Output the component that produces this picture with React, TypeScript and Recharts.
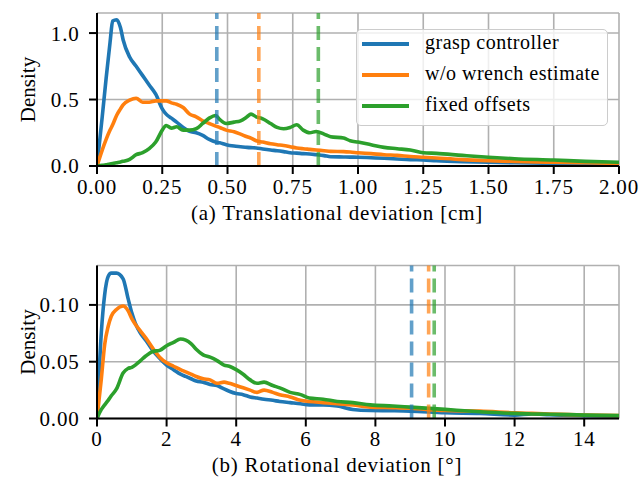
import React from 'react';
import { LineChart, Line, XAxis, YAxis, CartesianGrid, ReferenceLine, Legend } from 'recharts';

const seriesNames = ['grasp controller', 'w/o wrench estimate', 'fixed offsets'];
const seriesKeys = ['grasp', 'noWrench', 'fixed'];
const colors = ['#1f77b4', '#ff7f0e', '#2ca02c'];

// (a) translational deviation, density estimate
const transX = [
  0, 0.02, 0.035, 0.05, 0.06, 0.075, 0.09, 0.1, 0.125, 0.15,
  0.175, 0.2, 0.225, 0.25, 0.265, 0.285, 0.305, 0.33, 0.355, 0.38,
  0.405, 0.43, 0.455, 0.47, 0.495, 0.525, 0.55, 0.575, 0.59, 0.61,
  0.635, 0.665, 0.69, 0.715, 0.74, 0.765, 0.79, 0.815, 0.84, 0.87,
  0.895, 0.945, 0.97, 1.0, 1.05, 1.1, 1.15, 1.2, 1.25, 1.3,
  1.4, 1.5, 1.6, 1.75, 1.87, 2.0,
];
const transGrasp = [
  0, 0.37, 0.66, 0.93, 1.09, 1.1, 1.04, 0.95, 0.82, 0.75,
  0.68, 0.61, 0.54, 0.43, 0.39, 0.36, 0.33, 0.29, 0.26, 0.25,
  0.23, 0.2, 0.18, 0.175, 0.16, 0.15, 0.145, 0.14, 0.138, 0.136,
  0.128, 0.12, 0.115, 0.108, 0.1, 0.097, 0.093, 0.09, 0.085, 0.078,
  0.07, 0.068, 0.067, 0.066, 0.062, 0.058, 0.053, 0.048, 0.045, 0.04,
  0.033, 0.028, 0.024, 0.02, 0.017, 0.015,
];
const transNoWrench = [
  0, 0.12, 0.2, 0.27, 0.31, 0.38, 0.43, 0.46, 0.495, 0.51,
  0.48, 0.48, 0.49, 0.49, 0.49, 0.475, 0.465, 0.44, 0.39, 0.37,
  0.34, 0.32, 0.3, 0.29, 0.27, 0.258, 0.24, 0.22, 0.21, 0.19,
  0.18, 0.167, 0.16, 0.154, 0.145, 0.136, 0.13, 0.125, 0.12, 0.115,
  0.11, 0.108, 0.105, 0.1, 0.093, 0.085, 0.08, 0.072, 0.066, 0.06,
  0.048, 0.04, 0.034, 0.028, 0.024, 0.02,
];
const transFixed = [
  0, 0.005, 0.01, 0.015, 0.018, 0.024, 0.03, 0.035, 0.05, 0.085,
  0.1, 0.13, 0.18, 0.27, 0.305, 0.285, 0.295, 0.27, 0.27, 0.28,
  0.32, 0.36, 0.38, 0.35, 0.32, 0.33, 0.34, 0.37, 0.39, 0.37,
  0.355, 0.32, 0.29, 0.28, 0.29, 0.31, 0.27, 0.25, 0.26, 0.24,
  0.22, 0.21, 0.19, 0.18, 0.16, 0.14, 0.13, 0.12, 0.1, 0.095,
  0.08, 0.066, 0.055, 0.045, 0.035, 0.028,
];
const transMeans = [0.459, 0.62, 0.848];
const transXTicks = [0, 0.25, 0.5, 0.75, 1, 1.25, 1.5, 1.75, 2];
const transYTicks = [0, 0.5, 1];

// (b) rotational deviation
const rotX = [
  0, 0.125, 0.22, 0.32, 0.41, 0.56, 0.75, 0.89, 1.0, 1.1,
  1.25, 1.4, 1.6, 1.8, 2.0, 2.2, 2.4, 2.55, 2.7, 2.85,
  3.05, 3.25, 3.45, 3.65, 3.8, 4.0, 4.2, 4.4, 4.6, 4.8,
  5.05, 5.25, 5.55, 5.85, 6.1, 6.5, 6.9, 7.35, 7.85, 8.5,
  9, 10, 11, 12, 12.5, 13, 14, 15,
];
const rotGrasp = [
  0, 0.076, 0.109, 0.125, 0.128, 0.128, 0.123, 0.106, 0.093, 0.084,
  0.075, 0.069, 0.06, 0.053, 0.047, 0.043, 0.039, 0.037, 0.035, 0.033,
  0.032, 0.03, 0.029, 0.026, 0.024, 0.022, 0.021, 0.019, 0.018, 0.017,
  0.016, 0.015, 0.014, 0.013, 0.012, 0.012, 0.011, 0.008, 0.007, 0.0068,
  0.0065, 0.005, 0.0045, 0.003, 0.004, 0.0033, 0.0025, 0.002,
];
const rotNoWrench = [
  0, 0.035, 0.065, 0.081, 0.09, 0.096, 0.099, 0.095, 0.088, 0.083,
  0.077, 0.071, 0.062, 0.054, 0.049, 0.046, 0.043, 0.041, 0.039, 0.037,
  0.035, 0.034, 0.031, 0.032, 0.031, 0.029, 0.027, 0.025, 0.023, 0.025,
  0.023, 0.021, 0.019, 0.016, 0.015, 0.014, 0.013, 0.012, 0.01, 0.0095,
  0.009, 0.007, 0.0065, 0.005, 0.0045, 0.004, 0.003, 0.0025,
];
const rotFixed = [
  0, 0.008, 0.012, 0.016, 0.02, 0.026, 0.04, 0.044, 0.045, 0.047,
  0.051, 0.055, 0.059, 0.06, 0.064, 0.067, 0.07, 0.069, 0.066, 0.061,
  0.056, 0.054, 0.051, 0.047, 0.046, 0.043, 0.039, 0.034, 0.031, 0.032,
  0.029, 0.027, 0.023, 0.021, 0.018, 0.017, 0.015, 0.014, 0.012, 0.011,
  0.01, 0.008, 0.006, 0.0045, 0.004, 0.0038, 0.003, 0.0025,
];
const rotMeans = [9.04, 9.53, 9.69];
const rotXTicks = [0, 2, 4, 6, 8, 10, 12, 14];
const rotYTicks = [0, 0.05, 0.1];

const transRows = transX.map((x, i) => ({
  x, grasp: transGrasp[i], noWrench: transNoWrench[i], fixed: transFixed[i],
}));
const rotRows = rotX.map((x, i) => ({
  x, grasp: rotGrasp[i], noWrench: rotNoWrench[i], fixed: rotFixed[i],
}));

const FONT = '"Liberation Serif", "Times New Roman", Times, serif';
const tickStyle = { fontFamily: FONT, fontSize: 21, fill: '#000', letterSpacing: 0.8 };

function LegendBox() {
  return (
    <div style={{
      boxSizing: 'border-box', width: 252, height: 97, position: 'relative',
      border: '1.5px solid #cccccc', borderRadius: 5, background: 'rgba(255,255,255,0.8)',
      fontFamily: FONT, fontSize: 20, letterSpacing: 0.5, color: '#000',
    }}>
      {seriesNames.map((name, i) => (
        <div key={name} style={{
          position: 'absolute', left: 0, top: 13.5 + i * 31 - 12, height: 24,
          display: 'flex', alignItems: 'center', whiteSpace: 'nowrap',
        }}>
          <span style={{ display: 'inline-block', marginLeft: 5, width: 47, height: 4, background: colors[i] }} />
          <span style={{ marginLeft: 16, lineHeight: '24px', position: 'relative', top: -2 }}>{name}</span>
        </div>
      ))}
    </div>
  );
}

function Panel({ rows, xMax, xTicks, xDigits, yMax, yTicks, yDigits, means, caption, captionDy, height, marginTop, legend }: any) {
  const plotH = 153;
  return (
    <LineChart width={640} height={height} data={rows} margin={{ top: marginTop, right: 21, bottom: 0, left: 0 }}>
      <CartesianGrid stroke="#b0b0b0" strokeWidth={1.6} />
      <XAxis
        dataKey="x" type="number" domain={[0, xMax]} ticks={xTicks} allowDataOverflow
        height={height - marginTop - plotH} tickSize={8} tickMargin={5}
        stroke="#000" strokeWidth={2}
        tick={(p: any) => (
          <text x={p.x} y={p.y} dy="0.71em" textAnchor="middle" style={tickStyle}>
            {Number(p.payload.value).toFixed(xDigits)}
          </text>
        )}
        label={(p: any) => {
          const vb = p.viewBox || {};
          return (
            <text x={337} y={vb.y + captionDy} textAnchor="middle" style={tickStyle}>{caption}</text>
          );
        }}
      />
      <YAxis
        type="number" domain={[0, yMax]} ticks={yTicks} allowDataOverflow
        width={97} tickSize={8} tickMargin={9.5} stroke="#000" strokeWidth={2}
        tick={(p: any) => (
          <text x={p.x} y={p.y} dy="0.355em" textAnchor="end" style={tickStyle}>
            {Number(p.payload.value).toFixed(yDigits)}
          </text>
        )}
        label={(p: any) => {
          const vb = p.viewBox || {};
          const cx = 35;
          const cy = vb.y + vb.height / 2;
          return (
            <text x={cx} y={cy} transform={`rotate(-90 ${cx} ${cy})`} textAnchor="middle"
              style={{ ...tickStyle, letterSpacing: 0 }}>Density</text>
          );
        }}
      />
      {seriesKeys.map((k, i) => (
        <Line key={k} dataKey={k} name={seriesNames[i]} type="monotone" stroke={colors[i]}
          strokeWidth={3.6} dot={false} activeDot={false} isAnimationActive={false} />
      ))}
      {means.map((m: number, i: number) => (
        <ReferenceLine key={i} x={m} stroke={colors[i]} strokeOpacity={0.7} strokeWidth={3.6} strokeDasharray="14 7" />
      ))}
      {legend && (
        <Legend layout="vertical" align="center" verticalAlign="middle"
          wrapperStyle={{ left: 356, top: 29, width: 252 }} content={() => <LegendBox />} />
      )}
    </LineChart>
  );
}

export default function App() {
  return (
    <div style={{ position: 'absolute', left: 0, top: 0, width: 640, height: 485, background: '#fff', overflow: 'hidden' }}>
      <div style={{ position: 'absolute', left: 0, top: 0 }}>
        <Panel rows={transRows} xMax={2} xTicks={transXTicks} xDigits={2} yMax={1.151} yTicks={transYTicks} yDigits={1}
          means={transMeans} caption="(a) Translational deviation [cm]" captionDy={54}
          height={240} marginTop={13} legend />
      </div>
      <div style={{ position: 'absolute', left: 0, top: 240 }}>
        <Panel rows={rotRows} xMax={15} xTicks={rotXTicks} xDigits={0} yMax={0.1347} yTicks={rotYTicks} yDigits={2}
          means={rotMeans} caption="(b) Rotational deviation [°]" captionDy={53}
          height={245} marginTop={25.5} />
      </div>
    </div>
  );
}
